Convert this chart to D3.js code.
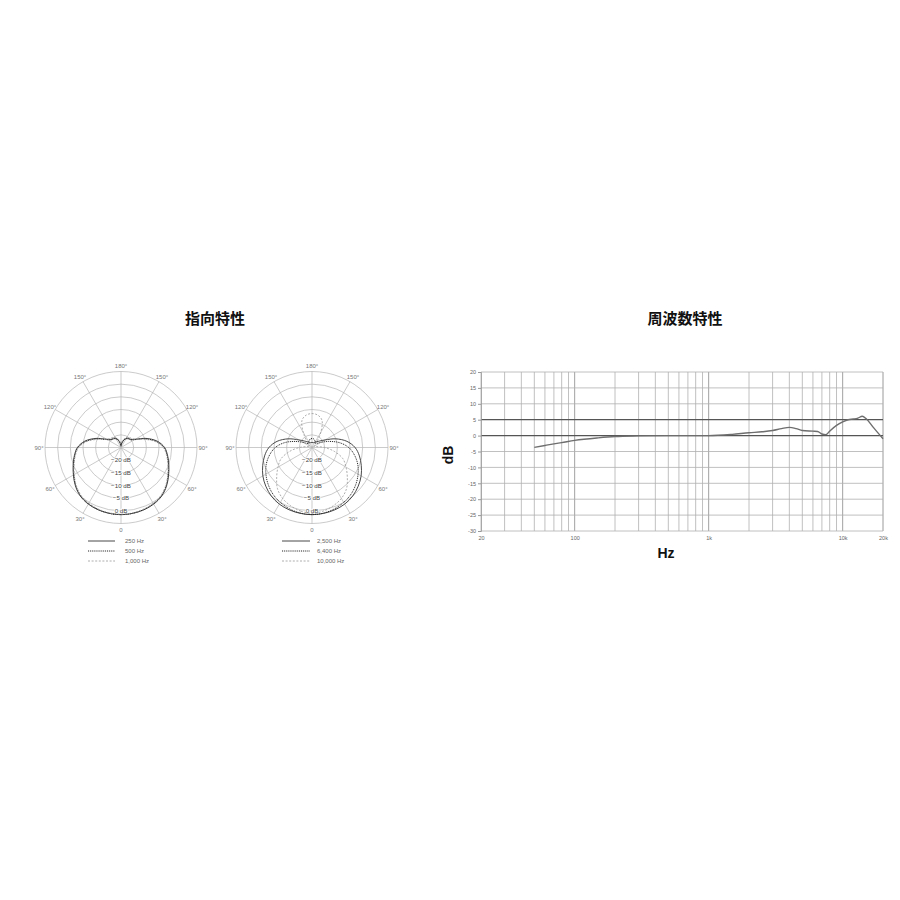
<!DOCTYPE html>
<html>
<head>
<meta charset="utf-8">
<script src="https://cdn.jsdelivr.net/npm/d3@7/dist/d3.min.js"></script>
<style>
  html, body { margin: 0; padding: 0; background: #fff; }
  svg { display: block; }
  text { font-family: "Liberation Sans", Arial, sans-serif; }
</style>
</head>
<body>
<svg id="chart" width="900" height="900"></svg>
<script>
// ---------------- DATA ----------------
const titlePolar = "指向特性";
const titleFreq = "周波数特性";

// Polar pattern: angle from front (deg), one half, mirrored
const polarAngles = [0,10,20,30,40,50,60,70,80,90,100,110,120,130,140,150,160,170,180];
const p250  = [1.5,1.4,1.2,0.8,0,-1.5,-3.3,-4.9,-6.3,-7.8,-10.5,-14.5,-18.5,-20,-20.5,-21,-22,-23.5,-24.5];
const p500  = [1.5,1.4,1.1,0.6,-0.2,-1.7,-3.5,-5.1,-6.5,-8,-11,-15,-18.8,-20.2,-20.3,-20.8,-21.8,-23,-24];
const p1000 = [1.3,1.2,0.9,0.4,-0.4,-1.9,-3.7,-5.3,-6.7,-8.3,-11.3,-15.5,-18.5,-19.5,-19.8,-20.3,-21.3,-22.5,-23.5];
const p2500 = [1.5,1.4,1.2,0.8,0,-1.2,-2.6,-4.3,-6,-8,-11,-15,-19,-21,-22,-22.5,-23,-23,-23];
const p6400 = [1.5,1.3,0.8,0,-1,-2.4,-4,-5.8,-8,-10.5,-14,-18,-21,-22.5,-23,-22.5,-22,-21.5,-21.5];
const p10000= [1.0,0.5,-0.5,-1.8,-3.8,-6.8,-9.5,-12,-16,-20,-23,-24,-24,-23.5,-22,-18,-13.5,-12,-11.6];

const leftLegend  = ["250 Hz", "500 Hz", "1,000 Hz"];
const rightLegend = ["2,500 Hz", "6,400 Hz", "10,000 Hz"];

const ringDb = [-20,-15,-10,-5,0,5];
const ringLabels = ["−20 dB","−15 dB","−10 dB","−5 dB","0 dB"];
const ringLabelDb = [-20,-15,-10,-5,0];
const angleTicks = [0,30,60,90,120,150,180];

// Frequency response
const freqHz = [50,60,70,80,100,150,200,300,500,1000,1500,2000,2500,3000,3500,4000,4500,5000,6000,6500,7000,7500,8000,9000,10000,11000,12000,13000,14000,15000,17000,20000];
const respDb = [-3.7,-3.1,-2.6,-2.2,-1.5,-0.7,-0.3,-0.1,0,0,0.4,0.9,1.2,1.6,2.2,2.6,2.2,1.6,1.4,1.3,0.5,0.3,1.4,3.2,4.3,5.0,5.2,5.5,6.1,5.3,2.5,-1.0];
const yTicks = [20,15,10,5,0,-5,-10,-15,-20,-25,-30];
const xTickVals = [20,100,1000,10000,20000];
const xTickLabels = ["20","100","1k","10k","20k"];

// ---------------- DRAW ----------------
const svg = d3.select("#chart");
svg.append("rect").attr("width",900).attr("height",900).attr("fill","#fff");

// Titles
svg.append("text").attr("x",215).attr("y",324).attr("text-anchor","middle")
  .style("font-family",'"Noto Sans CJK JP", sans-serif').style("font-weight","bold")
  .style("font-size","15px").attr("fill","#111").text(titlePolar);
svg.append("text").attr("x",685).attr("y",324).attr("text-anchor","middle")
  .style("font-family",'"Noto Sans CJK JP", sans-serif').style("font-weight","bold")
  .style("font-size","15px").attr("fill","#111").text(titleFreq);

// ---- Polar charts ----
const R = 76;
const rScale = d3.scaleLinear().domain([-25,5]).range([0,R]).clamp(true);

const styles = [
  {stroke:"#333", dash:null, width:0.9},
  {stroke:"#222", dash:"1,0.9", width:1.0},
  {stroke:"#999", dash:"2,1.6", width:0.8}
];

function mirror(vals){
  const pts = polarAngles.map((a,i)=>({a:a, v:vals[i]}));
  const back = [];
  for (let i = polarAngles.length - 2; i >= 1; i--) {
    back.push({a:360-polarAngles[i], v:vals[i]});
  }
  return pts.concat(back);
}

function drawPolar(cx, cy, series, legend, legLineX, legTextX){
  const g = svg.append("g").attr("transform",`translate(${cx},${cy})`);
  g.selectAll("circle.ring").data(ringDb).enter().append("circle")
    .attr("r", d=>rScale(d)).attr("fill","none").attr("stroke","#b5b5b5").attr("stroke-width",0.7);
  [0,30,60,90,120,150].forEach(a=>{
    const t = a*Math.PI/180;
    g.append("line")
      .attr("x1", R*Math.sin(t)).attr("y1", R*Math.cos(t))
      .attr("x2", -R*Math.sin(t)).attr("y2", -R*Math.cos(t))
      .attr("stroke","#b5b5b5").attr("stroke-width",0.7);
  });
  // curves
  const line = d3.lineRadial()
    .angle(d=>Math.PI + d.a*Math.PI/180)
    .radius(d=>rScale(d.v))
    .curve(d3.curveCatmullRomClosed.alpha(0.5));
  // ring labels (under curves)
  g.selectAll("text.rl").data(ringLabelDb).enter().append("text")
    .attr("x",0).attr("y",(d)=>rScale(d)+2.2).attr("text-anchor","middle")
    .style("font-size","6.2px").attr("fill","#444")
    .attr("stroke","#fff").attr("stroke-width",1.6).attr("paint-order","stroke")
    .text((d,i)=>ringLabels[i]);
  series.forEach((vals,k)=>{
    g.append("path").datum(mirror(vals)).attr("d",line)
      .attr("fill","none").attr("stroke",styles[k].stroke)
      .attr("stroke-width",styles[k].width)
      .attr("stroke-dasharray",styles[k].dash);
  });
  // angle labels
  const labR = 82;
  angleTicks.forEach(a=>{
    const sides = (a===0||a===180)?[1]:[1,-1];
    sides.forEach(s=>{
      const t = a*Math.PI/180;
      g.append("text").attr("x", s*labR*Math.sin(t)).attr("y", labR*Math.cos(t)+2)
        .attr("text-anchor","middle").style("font-size","6px").attr("fill","#777")
        .text(a===0?"0":a+"°");
    });
  });
  // legend
  legend.forEach((lab,k)=>{
    const y = 541 + k*10;
    svg.append("line").attr("x1",legLineX[0]).attr("x2",legLineX[1]).attr("y1",y).attr("y2",y)
      .attr("stroke",styles[k].stroke).attr("stroke-width",styles[k].width)
      .attr("stroke-dasharray",styles[k].dash);
    svg.append("text").attr("x",legTextX).attr("y",y+2).style("font-size","6px")
      .attr("fill","#666").text(lab);
  });
}

drawPolar(121, 447.5, [p250,p500,p1000], leftLegend, [88,115], 125);
drawPolar(312, 447.5, [p2500,p6400,p10000], rightLegend, [282,310], 317);

// ---- Frequency response ----
const x = d3.scaleLog().domain([20,20000]).range([481,883]);
const y = d3.scaleLinear().domain([-30,20]).range([531,372]);

const fg = svg.append("g");
const vGrid = [];
[10,100,1000,10000].forEach(dec=>{ for(let m=1;m<10;m++){ const f=dec*m; if(f>=20 && f<=20000) vGrid.push(f);} });
vGrid.push(20000);
fg.selectAll("line.vg").data(vGrid).enter().append("line")
  .attr("x1",d=>x(d)).attr("x2",d=>x(d)).attr("y1",y(20)).attr("y2",y(-30))
  .attr("stroke",d=>([100,1000,10000].includes(d))?"#8a8a8a":"#b0b0b0").attr("stroke-width",0.8);
fg.selectAll("line.hg").data(yTicks).enter().append("line")
  .attr("x1",x(20)).attr("x2",x(20000)).attr("y1",d=>y(d)).attr("y2",d=>y(d))
  .attr("stroke",d=>(d===0||d===5)?"#555":"#b0b0b0")
  .attr("stroke-width",d=>(d===0||d===5)?1.2:0.8);

const yAxis = d3.axisLeft(y).tickValues(yTicks).tickSize(3).tickPadding(2).tickFormat(d=>d);
const yG = fg.append("g").attr("transform",`translate(${x(20)},0)`).call(yAxis);
yG.select(".domain").attr("stroke","#999").attr("stroke-width",0.8);
yG.selectAll(".tick line").attr("stroke","#999");
yG.selectAll(".tick text").style("font-size","5.5px").attr("fill","#666")
  .style("font-family",'"Liberation Sans", Arial, sans-serif');

const xAxis = d3.axisBottom(x).tickValues(xTickVals).tickSize(0).tickPadding(5)
  .tickFormat((d,i)=>xTickLabels[i]);
const xG = fg.append("g").attr("transform",`translate(0,${y(-30)})`).call(xAxis);
xG.select(".domain").remove();
xG.selectAll(".tick text").style("font-size","5.5px").attr("fill","#666")
  .style("font-family",'"Liberation Sans", Arial, sans-serif');

const respLine = d3.line().x((d,i)=>x(freqHz[i])).y(d=>y(d)).curve(d3.curveMonotoneX);
fg.append("path").datum(respDb).attr("d",respLine)
  .attr("fill","none").attr("stroke","#6e6e6e").attr("stroke-width",1.4);

svg.append("text").attr("transform","translate(453,455) rotate(-90)")
  .attr("text-anchor","middle").style("font-weight","bold").style("font-size","14px")
  .style("font-family",'"Liberation Sans", Arial, sans-serif').attr("fill","#111").text("dB");
svg.append("text").attr("x",666).attr("y",558).attr("text-anchor","middle")
  .style("font-weight","bold").style("font-size","14px")
  .style("font-family",'"Liberation Sans", Arial, sans-serif').attr("fill","#111").text("Hz");
</script>
</body>
</html>
